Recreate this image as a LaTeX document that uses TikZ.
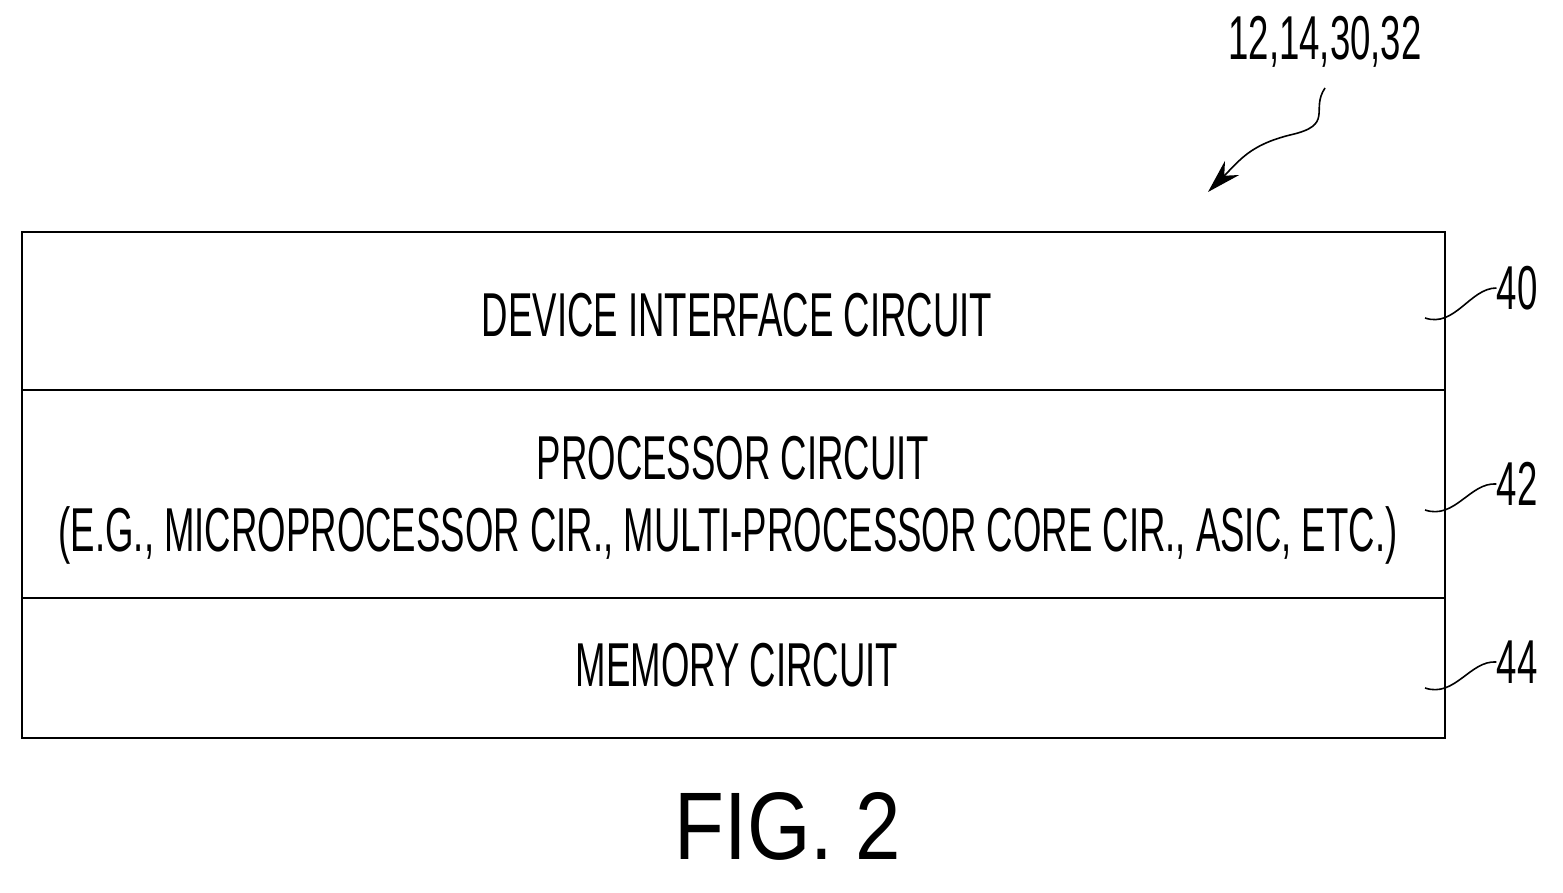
\documentclass[tikz,border=0pt]{standalone}
\usepackage{fontspec}
\setmainfont{Liberation Sans}
\usetikzlibrary{arrows.meta}
\newcommand\nar[1]{\scalebox{0.59}[1]{#1}}
\tikzset{lbl/.style={font=\fontsize{62}{72}\selectfont, inner sep=0pt},
 lead/.style={line width=1.6pt}}
\begin{document}
\begin{tikzpicture}[x=1pt,y=-1pt]
\useasboundingbox (0,0) rectangle (1563,893);
\draw[line width=2pt] (22,232) rectangle (1445,738);
\draw[line width=2pt] (22,390) -- (1445,390);
\draw[line width=2pt] (22,598) -- (1445,598);
\node[lbl] (t1) at (737,315) {\nar{DEVICE INTERFACE CIRCUIT}};
\node[lbl] (t2) at (733,458) {\nar{PROCESSOR CIRCUIT}};
\node[lbl] (t3) at (728,535) {\nar{(E.G., MICROPROCESSOR CIR., MULTI-PROCESSOR CORE CIR., ASIC, ETC.)}};
\node[lbl] (t4) at (737,665) {\nar{MEMORY CIRCUIT}};
\node[lbl] (n40) at (1517,288) {\nar{40}};
\node[lbl] (n42) at (1517,484) {\nar{42}};
\node[lbl] (n44) at (1517,662) {\nar{44}};
\node[lbl] (top) at (1325,42) {\nar{12,14,30,32}};
\node[font=\fontsize{96}{100}\selectfont, inner sep=0pt] (fig) at (788,826) {\scalebox{0.85}[1]{FIG. 2}};
\coordinate (a40) at (1425,318);
\coordinate (a42) at (1425,510);
\coordinate (a44) at (1425,688);
\draw[lead] (a40) .. controls (1455,328) and (1470,288) .. (n40.west);
\draw[lead] (a42) .. controls (1455,520) and (1470,482) .. (n42.west);
\draw[lead] (a44) .. controls (1455,698) and (1470,660) .. (n44.west);
\coordinate (tip) at (1208,192);
\draw[lead,-{Stealth[length=34pt,width=20pt]}] (1325,88) .. controls (1310,110) and (1335,125) .. (1290,135) .. controls (1250,145) and (1240,160) .. (tip);
\end{tikzpicture}
\end{document}
